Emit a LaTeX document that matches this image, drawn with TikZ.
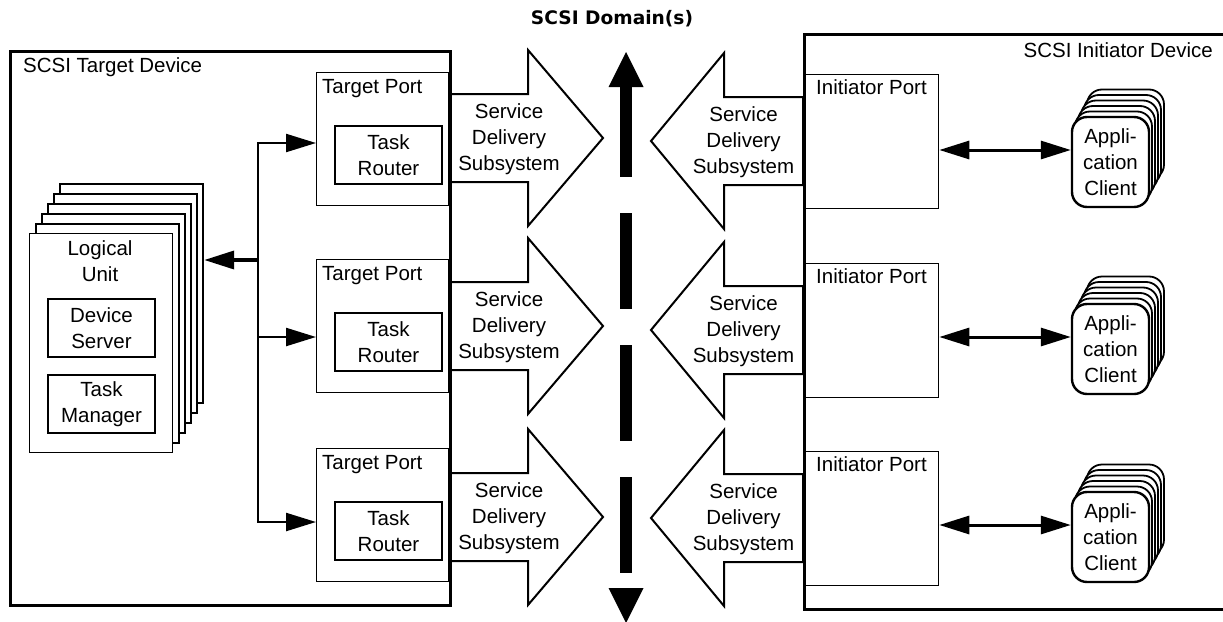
\documentclass[tikz,border=0pt]{standalone}
\usepackage{fontspec}
\setmainfont{Liberation Sans}
\newfontfamily\titlefont{DejaVu Sans}
\usetikzlibrary{arrows.meta}
\begin{document}
\begin{tikzpicture}[x=1pt,y=-1pt,
  lbl/.style={font=\fontsize{20.5}{25.7}\selectfont, align=center, inner sep=0pt},
  devbox/.style={draw, line width=3.2pt, anchor=north west, inner sep=0pt},
  portbox/.style={draw, line width=1.3pt, anchor=north west, inner sep=0pt, minimum height=133pt},
  innerbox/.style={lbl, draw, line width=2pt, minimum width=107pt, minimum height=58pt},
  sds/.style={draw, line width=2pt, fill=white, line join=miter},
  lusheet/.style={draw, fill=white, line width=2.2pt, anchor=north west, inner sep=0pt, minimum width=143pt, minimum height=219pt},
  lubox/.style={lbl, draw, line width=2pt, minimum width=107pt, minimum height=58pt},
  clientback/.style={draw, fill=white, line width=1.8pt, rounded corners=15pt},
  client/.style={lbl, draw, fill=white, line width=2.4pt, rounded corners=15pt, minimum width=77pt, minimum height=90pt},
  tip/.style={-{Triangle[length=30pt,width=18pt]}},
  dbl/.style={{Triangle[length=30pt,width=18pt]}-{Triangle[length=30pt,width=18pt]}, line width=3pt},
  bus/.style={line width=2.3pt},
]
\useasboundingbox (0,0) rectangle (1223,621);
\clip (0,0) rectangle (1223,621);

% title
\node[font=\titlefont\bfseries\fontsize{18.6}{22}\selectfont, inner sep=0pt] (title) at (612,19) {SCSI Domain(s)};

% service delivery subsystems (target side)
\foreach \i/\c in {1/138,2/326,3/517} {
  \draw[sds] (449,\c-44) -- (528,\c-44) -- (528,\c-88) -- (603,\c) -- (528,\c+88) -- (528,\c+44) -- (449,\c+44) -- cycle;
  \node[lbl] (sdst\i) at (509,\c+1) {Service\\Delivery\\Subsystem};
}
% service delivery subsystems (initiator side)
\foreach \i/\c in {1/141,2/330,3/518} {
  \draw[sds] (803,\c-44) -- (724,\c-44) -- (724,\c-88) -- (651,\c) -- (724,\c+88) -- (724,\c+44) -- (803,\c+44) -- cycle;
  \node[lbl] (sdsi\i) at (743.5,\c+1) {Service\\Delivery\\Subsystem};
}

% devices
\node[devbox, minimum width=440pt, minimum height=554pt] (tdev) at (9,50) {};
\node[lbl, anchor=base west] (tdevl) at (23,72) {SCSI Target Device};
\node[devbox, minimum width=500pt, minimum height=575pt] (idev) at (803,33) {};
\node[lbl, anchor=base east] (idevl) at (1213,57) {SCSI Initiator Device};

% target ports
\foreach \i/\t in {1/72,2/259,3/448} {
  \node[portbox, minimum width=132pt] (tp\i) at (316,\t) {};
  \node[lbl, anchor=base west] (tpl\i) at (322,\t+21) {Target Port};
  \node[innerbox] (tr\i) at (388.5,\t+83) {Task\\Router};
}

% initiator ports
\foreach \i/\c in {1/141,2/330,3/518} {
  \node[portbox, minimum width=135pt, minimum height=134pt] (ip\i) at (803,\c-67) {};
  \node[lbl, anchor=base west] (ipl\i) at (816,\c-47) {Initiator Port};
}

% logical unit stack
\foreach \k in {5,4,3,2,1} {
  \node[lusheet] (lu\k) at ({29+6*\k},{233-10*\k}) {};
}
\node[lusheet, line width=1.3pt] (lu) at (29,233) {};
\node[lbl] (lut) at (100,261) {Logical\\Unit};
\node[lubox] (ds) at (101.5,328) {Device\\Server};
\node[lubox] (tm) at (101.5,404) {Task\\Manager};

% tree of connectors
\coordinate (j1) at (258,143);
\coordinate (j2) at (258,337);
\coordinate (j3) at (258,522);
\coordinate (jl) at (258,260);
\draw[bus, tip] (j2) -- (j1) -- (tp1.west |- j1);
\draw[bus, tip] (j2) -- (j3) -- (tp3.west |- j3);
\draw[bus, tip] (j2) -- (tp2.west |- j2);
\draw[line width=3.6pt, tip] (jl) -- (lu5.east |- jl);

% application clients
\foreach \i/\c in {1/162,2/349,3/537} {
  \foreach \k in {5,4,3,2,1} {
    \draw[clientback] ({1072+3*\k},{\c-45-5.5*\k}) rectangle ++(77,90);
  }
  \node[client] (ac\i) at (1110.5,\c) {Appli-\\cation\\Client};
  \coordinate (ca\i) at ([yshift=12pt]ac\i.west);
  \draw[dbl] (ip\i.east |- ca\i) -- (ca\i);
}

% SCSI domain dashed arrow
\fill (608.5,87) -- (626,52) -- (643.5,87) -- cycle;
\fill (620,86) rectangle (632,177);
\fill (620,213) rectangle (632,309);
\fill (620,345) rectangle (632,441);
\fill (620,477) rectangle (632,573);
\fill (608.5,588) -- (626,623) -- (643.5,588) -- cycle;
\end{tikzpicture}
\end{document}
